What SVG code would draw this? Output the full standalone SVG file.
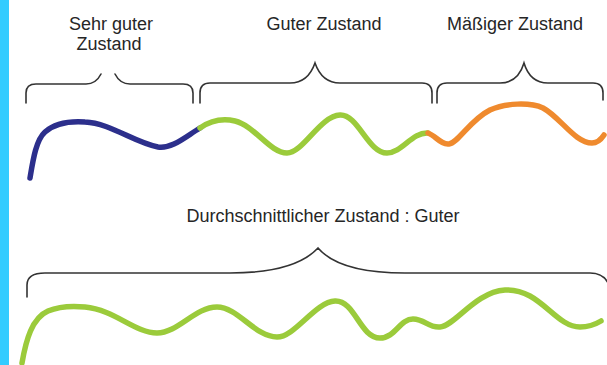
<svg xmlns="http://www.w3.org/2000/svg" width="607" height="365" viewBox="0 0 607 365">
  <style>
    .lbl { font-family: "Liberation Sans", Arial, sans-serif; font-size: 18px; fill: #262626; text-anchor: middle; }
    .brace { fill: none; stroke: #333333; stroke-width: 1.6; stroke-linecap: round; }
    .wave { fill: none; stroke-width: 5.5; stroke-linecap: round; stroke-linejoin: round; }
    .blue { stroke: #2c2f8c; }
    .green { stroke: #9bcb3b; }
    .orange { stroke: #ef8a2e; }
  </style>

  <rect x="0" y="0" width="607" height="365" fill="#ffffff"/>
  <!-- side band -->
  <rect x="0" y="0" width="9" height="365" fill="#33ccff"/>

  <!-- section labels -->
  <g id="label-sehr-gut">
    <text class="lbl" x="111" y="30">Sehr guter</text>
    <text class="lbl" x="109" y="50">Zustand</text>
  </g>
  <g id="label-gut">
    <text class="lbl" x="324" y="30">Guter Zustand</text>
  </g>
  <g id="label-maessig">
    <text class="lbl" x="515" y="30">Mäßiger Zustand</text>
  </g>
  <g id="label-durchschnitt">
    <text class="lbl" x="323" y="222">Durchschnittlicher Zustand : Guter</text>
  </g>

  <!-- braces -->
  <g id="braces">
    <path class="brace" d="M26,103 V93 Q26,84 36,84 H86 Q96,84 101,74"/>
    <path class="brace" d="M115,74 Q120,84 130,84 H183 Q193,84 193,93 V103"/>
    <path class="brace" d="M200,103 V93 Q200,83 210,83 H290 Q308,83 315,63 Q322,83 340,83 H422 Q432,83 432,93 V103"/>
    <path class="brace" d="M437,103 V93 Q437,83 447,83 H500 Q518,83 524,63 Q530,83 548,83 H593 Q603,83 603,93 V100"/>
    <path class="brace" d="M27,297 V285 Q27,273 45,273 H230 C280,273 305,262 318,248 C330,262 355,273 405,273 H590 Q603,273 608,283"/>
  </g>

  <!-- condition curves -->
  <g id="curves">
    <path class="wave blue" d="M30,178 C33,160 36,140 45,132 C55,123 70,121 85,122 C110,123 135,143 158,147 C172,149 185,137 200,128"/>
    <path class="wave green" d="M200,128 C210,121 222,118 235,121 C255,126 270,153 287,153 C303,153 320,116 340,115 C358,114 368,153 387,153 C402,153 412,132 428,133"/>
    <path class="wave orange" d="M428,133 C436,136 441,145 449,144 C458,143 470,120 490,110 C505,103 530,102 543,108 C560,117 575,143 592,143 C598,143 602,138 604,135"/>
    <path class="wave green" d="M22,363 C26,340 32,318 48,311 C60,306 75,306 85,307 C115,310 135,333 157,333 C178,333 195,307 217,307 C238,307 255,337 277,337 C295,337 315,302 335,301 C355,300 360,338 380,338 C395,338 400,319 413,319 C425,319 428,328 440,327 C455,326 475,292 505,290 C540,288 555,327 580,327 C590,327 596,324 601,321"/>
  </g>
</svg>
